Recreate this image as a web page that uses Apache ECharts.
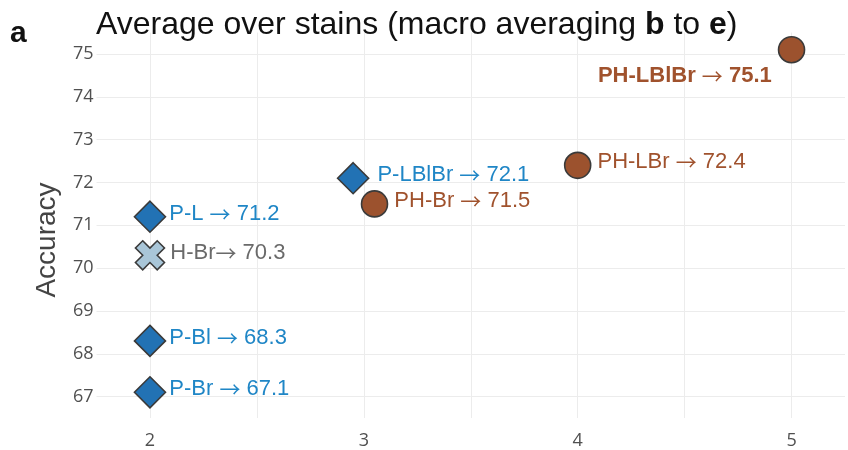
<!DOCTYPE html>
<html>
<head>
<meta charset="utf-8">
<script src="https://cdn.jsdelivr.net/npm/echarts@6/dist/echarts.min.js"></script>
<style>
  html, body { margin: 0; padding: 0; background: #fff; }
  #chart { width: 848px; height: 450px; }
</style>
</head>
<body>
<div id="chart"></div>
<script>
// Number of stains combined (x) vs. macro-averaged accuracy (y)
const pNames = ['P-Br', 'P-Bl', 'P-L', 'P-LBlBr'];
const pStains = [2, 2, 2, 2.95];
const pAccuracy = [67.1, 68.3, 71.2, 72.1];

const hNames = ['H-Br'];
const hStains = [2];
const hAccuracy = [70.3];

const phNames = ['PH-Br', 'PH-LBr', 'PH-LBlBr'];
const phStains = [3.05, 4, 5];
const phAccuracy = [71.5, 72.4, 75.1];

const xTicks = [2, 3, 4, 5];
const yTicks = [67, 68, 69, 70, 71, 72, 73, 74, 75];

const BLUE = '#2272b4';
const BLUE_TEXT = '#1f86c6';
const BROWN = '#9c522e';
const BROWN_TEXT = '#a0522d';
const CROSS = '#a9c6d8';
const GREY_TEXT = '#6a6a6a';
const EDGE = '#3a3a3a';
const GRID = '#ececec';

const SANS = "'Liberation Sans', Arial, sans-serif";
const TICK_FONT = "'Open Sans', sans-serif";
const ARROW_FONT = "'Noto Sans CJK SC', 'DejaVu Sans', sans-serif";

const crossPath = 'path://M2.5,0 L5,2.5 L7.5,0 L10,2.5 L7.5,5 L10,7.5 L7.5,10 L5,7.5 L2.5,10 L0,7.5 L2.5,5 L0,2.5 Z';

const isWhole = v => Math.abs(v - Math.round(v)) < 1e-6;

function points(names, xs, ys) {
  return names.map((n, i) => ({ name: n, value: [xs[i], ys[i]] }));
}

// label "<name> → <value>", the arrow drawn as a long thin glyph
function makeLabel(color, sep, extra, bold) {
  return Object.assign({
    show: true, position: 'right', distance: 5, offset: [0, -3],
    color: color, fontFamily: SANS, fontSize: 22,
    formatter: p => p.name + sep + '{arr|\u2192}' + ' ' + p.value[1].toFixed(1),
    rich: {
      arr: { fontFamily: ARROW_FONT, fontSize: 21, color: color, fontWeight: bold ? 'bold' : 'normal' }
    }
  }, extra || {});
}

const phData = points(phNames, phStains, phAccuracy);
// the top result gets a bold label placed below-left of its marker
phData[2].label = { position: 'left', distance: 6, offset: [0, 26], fontWeight: 'bold' };
const pData = points(pNames, pStains, pAccuracy);
pData[3].label = { distance: 8 };

const chart = echarts.init(document.getElementById('chart'), null, { renderer: 'canvas' });
chart.setOption({
  animation: false,
  backgroundColor: '#fff',
  title: {
    text: 'Average over stains (macro averaging {b|b} to {b|e})',
    left: 91, top: 4,
    textStyle: {
      fontFamily: SANS, fontSize: 32, fontWeight: 'normal', color: '#111',
      rich: { b: { fontFamily: SANS, fontSize: 32, fontWeight: 'bold', color: '#111' } }
    }
  },
  graphic: [
    {
      type: 'text', left: 10, top: 19,
      style: { text: 'a', font: "bold 30px 'Liberation Sans', Arial, sans-serif", fill: '#111' }
    },
    {
      type: 'text', x: 47, y: 240, rotation: Math.PI / 2,
      style: {
        text: 'Accuracy', font: "28px 'Liberation Sans', Arial, sans-serif", fill: '#444',
        align: 'center', verticalAlign: 'middle'
      }
    }
  ],
  grid: { left: 96.5, right: 2.5, top: 32.6, bottom: 31.6, containLabel: false },
  xAxis: {
    type: 'value', min: 1.75, max: 5.25, interval: 0.25,
    axisLine: { show: false }, axisTick: { show: false },
    axisLabel: {
      margin: 14, color: '#505050', fontSize: 18, fontFamily: TICK_FONT,
      formatter: v => (isWhole(v) && xTicks.includes(Math.round(v))) ? String(Math.round(v)) : ''
    },
    splitLine: { show: true, lineStyle: { color: ['rgba(0,0,0,0)', GRID], width: 1 } }
  },
  yAxis: {
    type: 'value', min: 66.5, max: 75.5, interval: 0.5,
    axisLine: { show: false }, axisTick: { show: false },
    axisLabel: {
      margin: 3, color: '#505050', fontSize: 18, fontFamily: TICK_FONT,
      formatter: v => (isWhole(v) && yTicks.includes(Math.round(v))) ? String(Math.round(v)) : ''
    },
    splitLine: { show: true, lineStyle: { color: ['rgba(0,0,0,0)', GRID], width: 1 } }
  },
  series: [
    {
      name: 'PH', type: 'scatter', symbol: 'circle', symbolSize: 26,
      data: phData,
      itemStyle: { color: BROWN, borderColor: EDGE, borderWidth: 1.6, opacity: 1 },
      label: makeLabel(BROWN_TEXT, ' ', { distance: 6 }),
      z: 3
    },
    {
      name: 'P', type: 'scatter', symbol: 'diamond', symbolSize: 31,
      data: pData,
      itemStyle: { color: BLUE, borderColor: EDGE, borderWidth: 1.6, opacity: 1 },
      label: makeLabel(BLUE_TEXT, ' ', { distance: 3 }),
      z: 4
    },
    {
      name: 'H', type: 'scatter', symbol: crossPath, symbolSize: 29,
      data: points(hNames, hStains, hAccuracy),
      itemStyle: { color: CROSS, borderColor: EDGE, borderWidth: 1.6, opacity: 1 },
      label: makeLabel(GREY_TEXT, '', { distance: 5, offset: [0, -2] }),
      z: 4
    }
  ]
});
</script>
</body>
</html>
